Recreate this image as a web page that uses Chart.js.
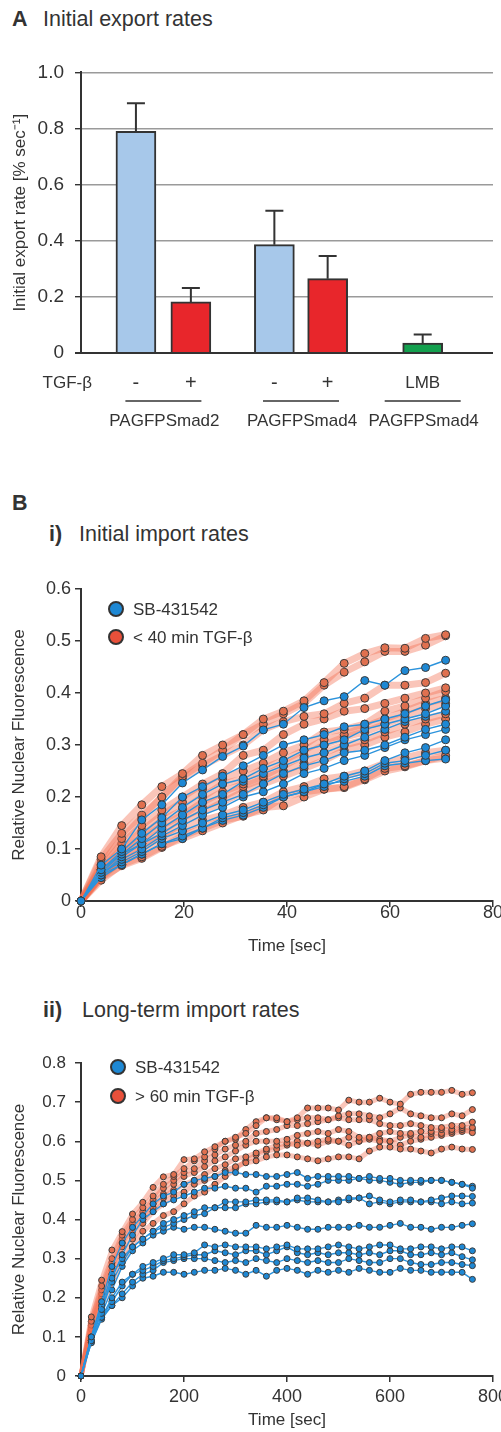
<!DOCTYPE html>
<html>
<head>
<meta charset="utf-8">
<script src="https://cdn.jsdelivr.net/npm/chart.js@4.4.0/dist/chart.umd.min.js"></script>
<style>
  body { margin: 0; background: #fff; font-family: "Liberation Sans", Arial, Helvetica, sans-serif; color: #333; }
  #page { position: relative; width: 501px; height: 1432px; overflow: hidden; }
  .box { position: absolute; left: 0; width: 501px; }
  .txt { position: absolute; white-space: nowrap; line-height: 1; }
  .head { font-size: 21.5px; }
  .leg { font-size: 17px; }
  .dot { position: absolute; width: 12px; height: 12px; border-radius: 50%; border: 2px solid #333; }
</style>
</head>
<body>
<div id="page">
  <div class="txt head" style="left:12px;top:9px;font-weight:bold">A</div>
  <div class="txt head" style="left:43px;top:9px">Initial export rates</div>
  <div class="box" style="top:50px;height:390px"><canvas id="chartA"></canvas></div>

  <div class="txt head" style="left:12px;top:493px;font-weight:bold">B</div>
  <div class="txt head" style="left:49px;top:524px;font-weight:bold">i)</div>
  <div class="txt head" style="left:79px;top:524px">Initial import rates</div>
  <div class="box" style="top:560px;height:400px"><canvas id="chartI"></canvas></div>
  <div class="dot" style="left:108px;top:601px;background:#1e88d4"></div>
  <div class="txt leg" style="left:133px;top:601px">SB-431542</div>
  <div class="dot" style="left:108px;top:629px;background:#e8503a"></div>
  <div class="txt leg" style="left:133px;top:629px">&lt; 40 min TGF-β</div>

  <div class="txt head" style="left:43px;top:1000px;font-weight:bold">ii)</div>
  <div class="txt head" style="left:82px;top:1000px">Long-term import rates</div>
  <div class="box" style="top:1040px;height:392px"><canvas id="chartII"></canvas></div>
  <div class="dot" style="left:110px;top:1059px;background:#1e88d4"></div>
  <div class="txt leg" style="left:135px;top:1059px">SB-431542</div>
  <div class="dot" style="left:110px;top:1088px;background:#e8503a"></div>
  <div class="txt leg" style="left:135px;top:1088px">&gt; 60 min TGF-β</div>
</div>

<script>
// ---- panel A: initial export rates ----
var treatLabels = ['-', '+', '-', '+', 'LMB'];
var barPos = [1, 2, 3.52, 4.49, 6.22];
var exportRate = [0.79, 0.182, 0.386, 0.265, 0.035];
var exportErr = [0.10, 0.05, 0.121, 0.081, 0.031];
var barColors = ['#a7c8ea', '#e8262b', '#a7c8ea', '#e8262b', '#13a04e'];
var groupNames = ['PAGFPSmad2', 'PAGFPSmad4', 'PAGFPSmad4'];
var groupBars = [[0, 1], [2, 3], [4, 4]];

// ---- panel B i: initial import (time in sec) ----
var timesI = [0, 3.9, 7.9, 11.8, 15.7, 19.7, 23.6, 27.5, 31.5, 35.4, 39.3, 43.3, 47.2, 51.1, 55.1, 59.0, 62.9, 66.9, 70.8];
var blueI = [
    [0, .069, .10, .156, .185, .227, .252, .278, .298, .329, .34, .372, .385, .393, .424, .415, .443, .449, .463],
    [0, .06, .095, .13, .16, .20, .22, .24, .26, .28, .30, .31, .32, .335, .34, .35, .36, .375, .387],
    [0, .055, .09, .12, .15, .18, .205, .225, .235, .255, .27, .29, .30, .31, .33, .34, .35, .36, .375],
    [0, .05, .085, .11, .14, .165, .19, .205, .23, .245, .26, .275, .285, .30, .315, .33, .345, .355, .365],
    [0, .06, .09, .11, .13, .155, .175, .19, .205, .225, .245, .26, .27, .285, .29, .30, .315, .33, .34],
    [0, .05, .08, .10, .125, .145, .165, .18, .20, .21, .225, .245, .255, .27, .28, .295, .31, .32, .33],
    [0, .055, .075, .095, .12, .135, .15, .165, .175, .19, .205, .215, .225, .24, .25, .27, .285, .295, .31],
    [0, .045, .07, .09, .11, .125, .14, .16, .17, .185, .20, .21, .22, .235, .245, .265, .27, .28, .29],
    [0, .05, .07, .09, .11, .12, .14, .155, .165, .18, .20, .21, .225, .23, .24, .26, .265, .27, .273]
];
var redI = [
    [0, .085, .145, .185, .22, .245, .28, .30, .32, .35, .365, .385, .42, .457, .476, .487, .486, .505, .512],
    [0, .08, .13, .165, .20, .24, .265, .29, .32, .34, .36, .38, .415, .44, .46, .48, .48, .492, .51],
    [0, .07, .12, .16, .20, .235, .26, .28, .30, .33, .345, .355, .36, .38, .39, .415, .415, .42, .438],
    [0, .065, .11, .145, .175, .20, .225, .245, .28, .29, .32, .34, .35, .365, .37, .38, .39, .40, .41],
    [0, .06, .10, .135, .165, .19, .215, .235, .25, .265, .285, .30, .325, .33, .34, .365, .375, .39, .403],
    [0, .055, .095, .125, .155, .175, .20, .225, .235, .255, .27, .29, .31, .32, .335, .35, .365, .38, .39],
    [0, .05, .09, .12, .145, .165, .19, .21, .225, .24, .26, .28, .30, .315, .325, .34, .355, .37, .38],
    [0, .05, .085, .11, .135, .16, .18, .20, .22, .235, .25, .265, .285, .30, .31, .325, .34, .35, .36],
    [0, .045, .08, .105, .125, .15, .17, .19, .21, .225, .24, .255, .27, .29, .30, .315, .325, .34, .35],
    [0, .04, .07, .085, .105, .12, .135, .15, .165, .175, .20, .21, .215, .22, .235, .255, .26, .27, .28],
    [0, .045, .068, .082, .103, .125, .14, .155, .163, .18, .183, .20, .215, .218, .233, .25, .258, .27, .275],
    [0, .05, .075, .095, .12, .135, .155, .165, .18, .19, .21, .22, .235, .24, .25, .265, .275, .285, .29]
];

// ---- panel B ii: long-term import (time in sec) ----
var timesII = [0, 20, 40, 60, 80, 100, 120, 140, 160, 180, 200, 220, 240, 260, 280, 300, 320, 340, 360, 380,
    400, 420, 440, 460, 480, 500, 520, 540, 560, 580, 600, 620, 640, 660, 680, 700, 720, 740, 760];
var blueII = [
    [0, .10, .19, .28, .34, .38, .41, .44, .46, .47, .49, .50, .505, .51, .52, .52, .515, .515, .51, .51,
        .515, .52, .505, .51, .51, .51, .51, .505, .51, .505, .505, .50, .50, .50, .50, .50, .495, .49, .48],
    [0, .09, .17, .25, .31, .36, .40, .42, .44, .45, .46, .47, .48, .48, .485, .48, .48, .47, .485, .485,
        .49, .49, .485, .49, .50, .50, .50, .505, .50, .50, .495, .49, .495, .495, .50, .50, .495, .49, .485],
    [0, .10, .18, .26, .30, .33, .35, .37, .39, .40, .41, .42, .43, .43, .445, .445, .445, .45, .45, .45,
        .445, .455, .455, .45, .445, .445, .455, .455, .46, .45, .445, .45, .45, .445, .45, .455, .46, .46, .459],
    [0, .09, .17, .24, .29, .33, .35, .37, .38, .39, .40, .41, .415, .43, .43, .43, .44, .44, .445, .445,
        .445, .45, .445, .445, .445, .45, .45, .455, .44, .445, .44, .445, .445, .445, .445, .44, .445, .44, .442],
    [0, .10, .16, .22, .28, .32, .34, .36, .37, .38, .375, .38, .38, .375, .37, .365, .365, .385, .38, .38,
        .385, .38, .375, .375, .38, .38, .38, .385, .38, .38, .385, .39, .38, .38, .375, .38, .38, .385, .389],
    [0, .085, .15, .20, .24, .26, .28, .29, .30, .31, .31, .315, .335, .33, .335, .33, .33, .33, .325, .33,
        .335, .325, .325, .325, .33, .335, .33, .325, .33, .335, .335, .325, .325, .33, .33, .325, .33, .33, .32],
    [0, .09, .15, .19, .23, .26, .27, .28, .295, .30, .305, .31, .31, .32, .315, .31, .32, .32, .31, .32,
        .33, .315, .31, .315, .31, .315, .315, .31, .315, .31, .32, .32, .31, .31, .315, .31, .315, .305, .297],
    [0, .085, .145, .18, .21, .24, .26, .27, .29, .295, .30, .30, .30, .295, .29, .295, .29, .30, .295, .29,
        .30, .295, .29, .295, .29, .29, .30, .295, .29, .29, .30, .30, .29, .285, .285, .29, .29, .285, .282],
    [0, .09, .15, .18, .20, .23, .25, .255, .265, .265, .26, .265, .27, .27, .275, .27, .26, .27, .255, .27,
        .275, .27, .26, .27, .265, .27, .265, .275, .27, .265, .265, .275, .27, .27, .265, .265, .265, .265, .247]
];
var redII = [
    [0, .151, .245, .322, .369, .414, .444, .482, .509, .515, .553, .555, .573, .586, .60, .61, .62, .64, .66, .66,
        .65, .66, .685, .685, .685, .68, .705, .70, .70, .71, .70, .695, .72, .725, .725, .725, .73, .72, .724],
    [0, .14, .23, .30, .36, .40, .43, .46, .49, .51, .53, .55, .56, .58, .60, .605, .63, .65, .66, .655,
        .65, .655, .66, .66, .655, .665, .67, .67, .665, .66, .67, .685, .67, .665, .66, .66, .67, .665, .681],
    [0, .14, .22, .29, .35, .39, .42, .45, .48, .50, .52, .53, .55, .565, .58, .59, .60, .62, .625, .63,
        .64, .64, .645, .65, .655, .66, .655, .655, .655, .645, .64, .64, .645, .64, .635, .635, .64, .64, .649],
    [0, .13, .21, .28, .34, .38, .41, .44, .465, .49, .51, .52, .535, .55, .56, .575, .59, .60, .60, .60,
        .605, .615, .62, .625, .62, .63, .625, .61, .61, .62, .625, .62, .62, .625, .625, .63, .63, .635, .635],
    [0, .13, .20, .27, .33, .37, .40, .43, .455, .475, .49, .50, .515, .53, .54, .555, .56, .57, .58, .59,
        .595, .59, .595, .60, .605, .60, .61, .60, .605, .60, .60, .61, .615, .61, .62, .62, .625, .63, .622],
    [0, .12, .19, .26, .31, .35, .39, .42, .44, .46, .47, .49, .50, .51, .525, .535, .545, .55, .56, .565,
        .565, .56, .555, .55, .555, .56, .56, .555, .575, .585, .585, .58, .58, .575, .57, .58, .585, .58, .579],
    [0, .12, .18, .24, .29, .33, .37, .39, .41, .42, .44, .46, .47, .49, .51, .53, .55, .565, .575, .58,
        .59, .60, .595, .59, .60, .60, .59, .60, .61, .605, .60, .59, .60, .605, .61, .615, .62, .625, .63]
];

var FONT = '"Liberation Sans", Arial, Helvetica, sans-serif';
var INK = '#333';
Chart.defaults.font.family = FONT;
Chart.defaults.color = INK;

// error whiskers + labels under the bars
var barExtras = {
    id: 'barExtras',
    afterDatasetsDraw: function (chart) {
        var ctx = chart.ctx;
        var x = chart.scales.x, y = chart.scales.y;
        var bottom = chart.chartArea.bottom;
        ctx.save();
        ctx.strokeStyle = INK;
        ctx.lineWidth = 2;
        for (var i = 0; i < exportRate.length; i++) {
            var px = x.getPixelForValue(barPos[i]);
            var y0 = y.getPixelForValue(exportRate[i]);
            var y1 = y.getPixelForValue(exportRate[i] + exportErr[i]);
            ctx.beginPath();
            ctx.moveTo(px, y0); ctx.lineTo(px, y1);
            ctx.moveTo(px - 9, y1); ctx.lineTo(px + 9, y1);
            ctx.stroke();
        }
        ctx.fillStyle = INK;
        ctx.textBaseline = 'middle';
        ctx.textAlign = 'right';
        ctx.font = '17px ' + FONT;
        ctx.fillText('TGF-β', chart.chartArea.left + 11, bottom + 30);
        ctx.textAlign = 'center';
        for (var j = 0; j < treatLabels.length; j++) {
            ctx.font = (treatLabels[j].length > 1 ? '17px ' : '20px ') + FONT;
            ctx.fillText(treatLabels[j], x.getPixelForValue(barPos[j]), bottom + 30);
        }
        ctx.font = '17px ' + FONT;
        ctx.lineWidth = 1.5;
        for (var g = 0; g < groupNames.length; g++) {
            var cx = (x.getPixelForValue(barPos[groupBars[g][0]]) + x.getPixelForValue(barPos[groupBars[g][1]])) / 2;
            ctx.beginPath();
            ctx.moveTo(cx - 38, bottom + 48); ctx.lineTo(cx + 38, bottom + 48);
            ctx.stroke();
            ctx.fillText(groupNames[g], cx + 1, bottom + 68);
        }
        ctx.restore();
    }
};

new Chart(document.getElementById('chartA'), {
    type: 'bar',
    data: {
        datasets: [{
            data: barPos.map(function (p, i) { return { x: p, y: exportRate[i] }; }),
            backgroundColor: barColors,
            borderColor: INK,
            borderWidth: 2,
            barThickness: 40
        }]
    },
    options: {
        responsive: true,
        maintainAspectRatio: false,
        animation: false,
        events: [],
        layout: { padding: { top: 18, right: 8, bottom: 87, left: 0 } },
        plugins: { legend: { display: false }, tooltip: { enabled: false } },
        scales: {
            x: { type: 'linear', min: 0, max: 7.5, offset: false, display: false },
            y: {
                min: 0, max: 1,
                ticks: {
                    stepSize: 0.2, padding: 11, color: INK, font: { size: 19 },
                    callback: function (v) { return v === 0 ? '0' : v.toFixed(1); }
                },
                grid: {
                    color: function (c) { return c.tick && c.tick.value === 0 ? INK : '#9a9a9a'; },
                    lineWidth: function (c) { return c.tick && c.tick.value === 0 ? 2 : 1.4; },
                    tickColor: INK, tickLength: 6
                },
                border: { color: INK, width: 2 },
                title: { display: true, text: 'Initial export rate [% sec⁻¹]', font: { size: 17 }, color: INK, padding: { top: 10, bottom: 0 } },
                afterFit: function (s) { s.width = 81; }
            }
        }
    },
    plugins: [barExtras]
});

function lineSets(times, blue, red, r, glow) {
    var sets = [];
    blue.forEach(function (row) {
        sets.push({
            data: row.map(function (v, i) { return { x: times[i], y: v }; }),
            borderColor: '#2b93dc', borderWidth: 1.4,
            pointRadius: r, pointBackgroundColor: '#1e88d4',
            pointBorderColor: '#3a3a3a', pointBorderWidth: 1,
            tension: 0, clip: false
        });
    });
    red.forEach(function (row) {
        sets.push({
            data: row.map(function (v, i) { return { x: times[i], y: v }; }),
            borderColor: 'rgba(243,110,80,0.4)', borderWidth: glow,
            pointRadius: r, pointBackgroundColor: '#e0704f',
            pointBorderColor: '#3a3a3a', pointBorderWidth: 1,
            tension: 0, clip: false
        });
    });
    return sets;
}

function importChart(id, times, blue, red, opt) {
    return new Chart(document.getElementById(id), {
        type: 'line',
        data: { datasets: lineSets(times, blue, red, opt.r, opt.glow) },
        options: {
            responsive: true,
            maintainAspectRatio: false,
            animation: false,
            events: [],
            layout: { padding: { top: opt.top, right: 8, bottom: 0, left: 0 } },
            plugins: { legend: { display: false }, tooltip: { enabled: false } },
            scales: {
                x: {
                    type: 'linear', min: 0, max: opt.xMax,
                    ticks: { stepSize: opt.xStep, padding: opt.xPad, color: INK, font: { size: 18, lineHeight: 1 } },
                    grid: { drawOnChartArea: false, tickColor: INK, tickLength: 6, lineWidth: 1.5 },
                    border: { color: INK, width: 2 },
                    title: { display: true, text: 'Time [sec]', font: { size: 17 }, color: INK, padding: { top: 0, bottom: opt.tPad } },
                    afterFit: function (s) { s.height = opt.xH; s.paddingLeft = 0; s.paddingRight = 0; }
                },
                y: {
                    min: 0, max: opt.yMax,
                    ticks: {
                        stepSize: 0.1, padding: opt.yPad, color: INK, font: { size: opt.yFont },
                        callback: function (v) { return v === 0 ? '0' : v.toFixed(1); }
                    },
                    grid: { drawOnChartArea: false, tickColor: INK, tickLength: 6, lineWidth: 1.5 },
                    border: { color: INK, width: 2 },
                    title: { display: true, text: 'Relative Nuclear Fluorescence', font: { size: 17 }, color: INK, padding: { top: 9, bottom: 0 } },
                    afterFit: function (s) { s.width = 81; }
                }
            }
        }
    });
}

importChart('chartI', timesI, blueI, redI, { r: 4, glow: 7, top: 29, xMax: 80, xStep: 20, xPad: -3, tPad: 3, xH: 59, yMax: 0.6, yPad: 4, yFont: 18 });
importChart('chartII', timesII, blueII, redII, { r: 3, glow: 5, top: 23, xMax: 800, xStep: 200, xPad: 6, tPad: 1, xH: 56, yMax: 0.8, yPad: 9, yFont: 17 });
</script>
</body>
</html>
